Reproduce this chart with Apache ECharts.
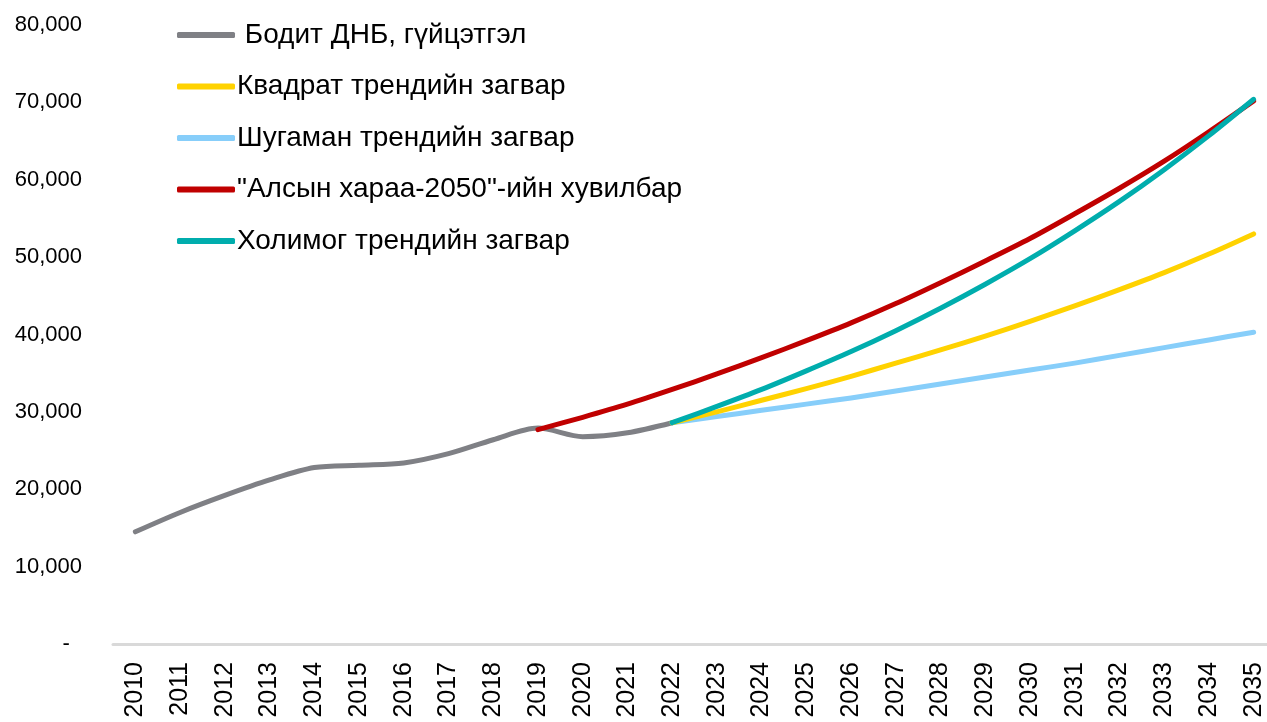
<!DOCTYPE html>
<html>
<head>
<meta charset="utf-8">
<script src="https://cdn.jsdelivr.net/npm/echarts@6/dist/echarts.min.js"></script>
<style>
  html, body { margin: 0; padding: 0; background: #fff; overflow: hidden; }
  #chart { width: 1276px; height: 722px; }
</style>
</head>
<body>
<div id="chart"></div>
<script>
// years on the x axis
var years = ['2010','2011','2012','2013','2014','2015','2016','2017','2018','2019','2020','2021','2022',
             '2023','2024','2025','2026','2027','2028','2029','2030','2031','2032','2033','2034','2035'];

var names = ['\u00a0Бодит ДНБ, гүйцэтгэл', 'Квадрат трендийн загвар', 'Шугаман трендийн загвар',
             '"Алсын хараа-2050"-ийн хувилбар', 'Холимог трендийн загвар'];

// actual GDP 2010-2022
var actual = [14500, 17000, 19200, 21200, 22800, 23100, 23400, 24600, 26400, 27900, 26800, 27300, 28600];
// scenarios, 2019/2022-2035
var vision = [27700, 29300, 31000, 32900, 34900, 37000, 39200, 41500, 44000, 46700, 49500, 52400, 55600, 58900, 62400, 66200, 70200];
var quad   = [28600, 30000, 31500, 33000, 34600, 36300, 38000, 39800, 41700, 43700, 45800, 48000, 50400, 53000];
var linear = [28600, 29400, 30200, 31000, 31800, 32700, 33600, 34500, 35400, 36300, 37300, 38300, 39300, 40300];
var mixed  = [28600, 30700, 32900, 35300, 37800, 40500, 43400, 46500, 49800, 53400, 57200, 61300, 65700, 70400];

var colors = ['#7f8085', '#ffd200', '#87cefa', '#c00000', '#00adad'];

function pad(arr, startYear) {
    var out = [];
    var off = years.indexOf(startYear);
    for (var i = 0; i < years.length; i++) {
        out.push(i >= off && i - off < arr.length ? arr[i - off] : null);
    }
    return out;
}

function line(name, data, color) {
    return {
        name: name,
        type: 'line',
        data: data,
        smooth: 0.3,
        symbol: 'none',
        connectNulls: false,
        itemStyle: { color: color },
        lineStyle: { color: color, width: 5, cap: 'round', join: 'round' }
    };
}

var chart = echarts.init(document.getElementById('chart'));
chart.setOption({
    animation: false,
    backgroundColor: '#fff',
    grid: { left: 113, top: 25, right: 0, bottom: 78, containLabel: false },
    legend: {
        orient: 'vertical',
        left: 172,
        top: 15,
        data: [names[0], names[1], names[2], names[3], names[4]],
        icon: 'roundRect',
        itemWidth: 58,
        itemHeight: 6,
        itemGap: 21.5,
        textStyle: { fontFamily: 'Liberation Sans, Arial', fontSize: 28, color: '#000', lineHeight: 30, padding: [0, 0, 0, -3] }
    },
    xAxis: {
        type: 'category',
        data: years,
        boundaryGap: true,
        axisLine: { lineStyle: { color: '#d9d9d9', width: 3 } },
        axisTick: { show: false },
        axisLabel: { rotate: 90, margin: 18, interval: 0, color: '#000', fontSize: 25, fontFamily: 'Liberation Sans, Arial' }
    },
    yAxis: {
        type: 'value',
        min: 0,
        max: 80000,
        interval: 10000,
        splitLine: { show: false },
        axisLine: { show: false },
        axisTick: { show: false },
        axisLabel: {
            margin: 31,
            color: '#000',
            fontSize: 22,
            fontFamily: 'Liberation Sans, Arial',
            formatter: function (v) {
                return v === 0 ? '-\u00a0\u00a0' : v.toLocaleString('en-US');
            }
        }
    },
    series: [
        line(names[0], pad(actual, '2010'), colors[0]),
        line(names[2], pad(linear, '2022'), colors[2]),
        line(names[1], pad(quad, '2022'), colors[1]),
        line(names[3], pad(vision, '2019'), colors[3]),
        line(names[4], pad(mixed, '2022'), colors[4])
    ]
});
</script>
</body>
</html>
